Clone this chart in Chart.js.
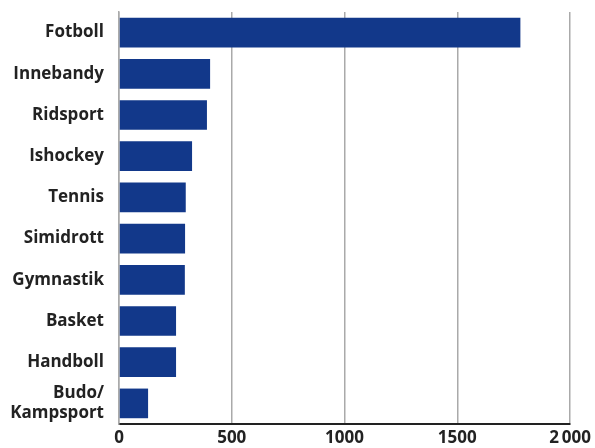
<!DOCTYPE html>
<html>
<head>
<meta charset="utf-8">
<script src="https://cdn.jsdelivr.net/npm/chart.js@4"></script>
<style>
    html, body { margin: 0; padding: 0; background: #fff; }
    #wrap { width: 595px; height: 448px; }
</style>
</head>
<body>
<div id="wrap"><canvas id="chart" width="595" height="448"></canvas></div>
<script>
// Data
const categories = ['Fotboll', 'Innebandy', 'Ridsport', 'Ishockey', 'Tennis',
    'Simidrott', 'Gymnastik', 'Basket', 'Handboll', ['Budo/', 'Kampsport']];
const values = [1780, 404, 390, 324, 296, 293, 292, 253, 253, 129];
const tickValues = [0, 500, 1000, 1500, 2000];
const tickLabels = ['0', '500', '1000', '1500', '2\u2009000'];

const textColor = '#222222';
const barColor = '#12388a';
const gridColor = '#aaaaaa';
const labelFont = { family: 'Open Sans', size: 17, weight: 'bold', lineHeight: 1.2 };

new Chart(document.getElementById('chart'), {
    type: 'bar',
    data: {
        labels: categories,
        datasets: [{
            data: values,
            backgroundColor: barColor,
            barPercentage: 0.72,
            categoryPercentage: 1.0
        }]
    },
    options: {
        indexAxis: 'y',
        responsive: false,
        animation: false,
        layout: { padding: { top: 12, right: 25, left: 0, bottom: 0 } },
        plugins: {
            legend: { display: false },
            tooltip: { enabled: false }
        },
        scales: {
            x: {
                min: 0,
                max: 2000,
                afterBuildTicks: (scale) => {
                    scale.ticks = tickValues.map(v => ({ value: v }));
                },
                afterFit: (scale) => {
                    scale.height = 24;
                    scale.paddingLeft = 0;
                    scale.paddingRight = 0;
                },
                grid: {
                    color: gridColor,
                    lineWidth: 1.5,
                    drawTicks: false
                },
                border: { color: textColor, width: 2 },
                ticks: {
                    autoSkip: false,
                    maxRotation: 0,
                    padding: 4,
                    color: textColor,
                    font: labelFont,
                    callback: (value) => tickLabels[tickValues.indexOf(value)]
                }
            },
            y: {
                afterFit: (scale) => {
                    scale.width = 119;
                    scale.paddingTop = 0;
                    scale.paddingBottom = 0;
                },
                grid: { display: false, drawTicks: false },
                border: { color: gridColor, width: 1.5 },
                ticks: {
                    autoSkip: false,
                    padding: 15,
                    color: textColor,
                    font: labelFont
                }
            }
        }
    }
});
</script>
</body>
</html>
